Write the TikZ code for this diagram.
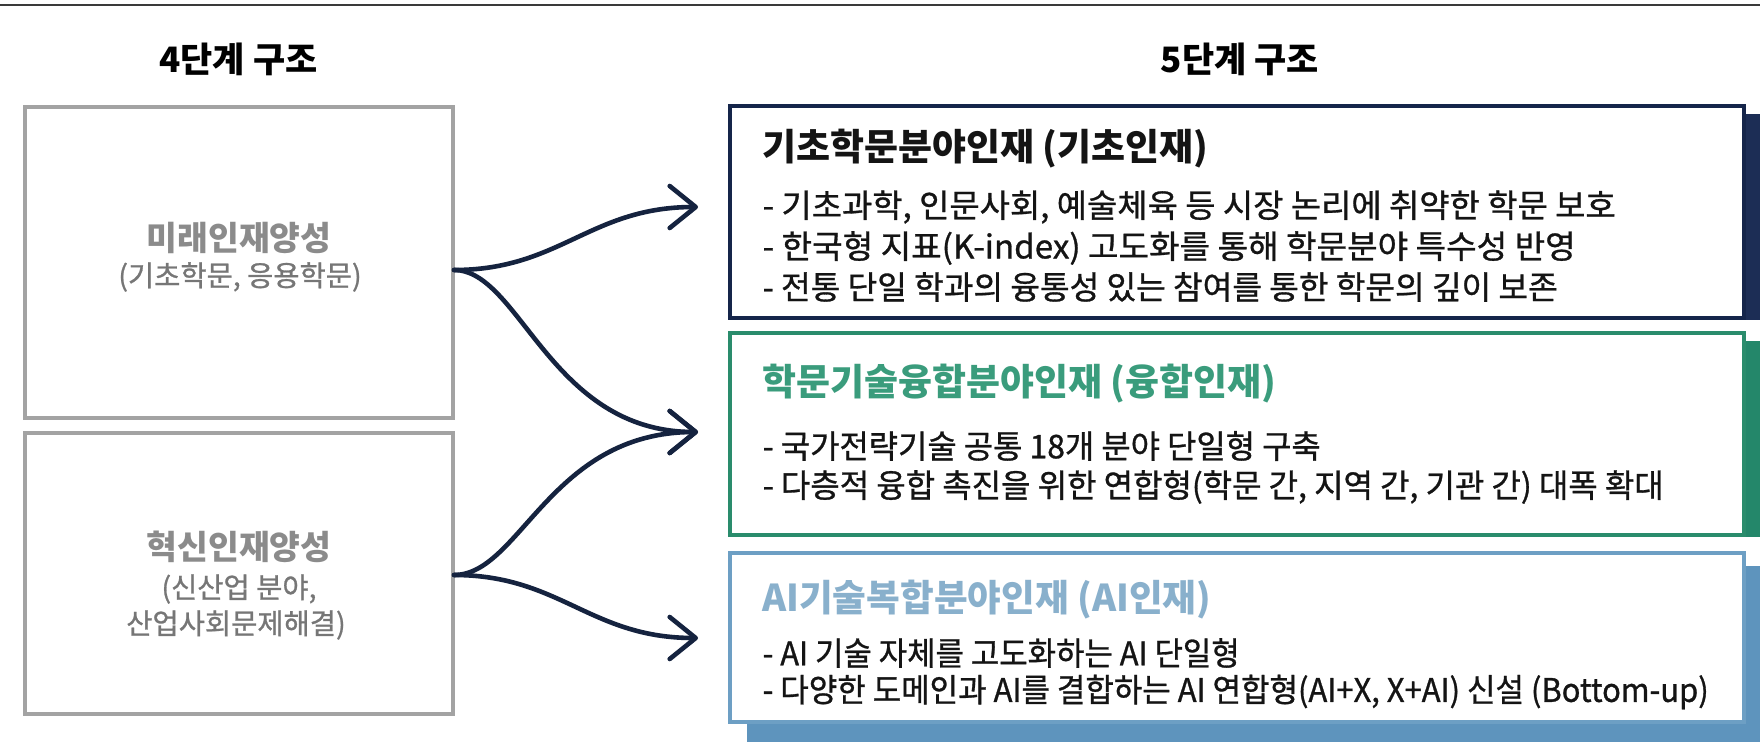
\documentclass[tikz,border=0pt]{standalone}
\usepackage{graphicx}
\usepackage{fontspec}
\setmainfont{Noto Sans CJK KR}
\newfontfamily\bulletfamily{Noto Sans CJK KR}[FakeBold=0.9]
\usetikzlibrary{arrows.meta}
\definecolor{navy}{HTML}{15254A}
\definecolor{navyshadow}{HTML}{1C2D55}
\definecolor{greenb}{HTML}{2A8C6C}
\definecolor{greenshadow}{HTML}{24876A}
\definecolor{greent}{HTML}{3A9C7C}
\definecolor{blueb}{HTML}{6D9FC4}
\definecolor{blueshadow}{HTML}{5E94BD}
\definecolor{bluet}{HTML}{89B0CC}
\definecolor{grayb}{HTML}{A3A3A3}
\definecolor{grayt}{HTML}{8B8B8B}
\definecolor{grays}{HTML}{767676}
\definecolor{arrowc}{HTML}{15233F}
\definecolor{topline}{HTML}{3A3A3A}
\definecolor{textc}{HTML}{141414}
\newcommand\fitw[2]{\resizebox{#1}{\height}{#2}}
\tikzset{
  heading/.style={font=\fontsize{35}{40}\selectfont\bfseries, text=black, inner sep=0},
  leftbox/.style={draw=grayb, line width=4pt, fill=white, minimum width=428pt, inner sep=0},
  lefttitle/.style={font=\fontsize{33.5}{40}\selectfont\bfseries, text=grayt, inner sep=0},
  leftsub/.style={font=\fontsize{28.5}{34}\selectfont\bulletfamily, text=grays, inner sep=0},
  rightbox/.style={line width=4pt, fill=white, minimum width=1014pt, inner sep=0},
  rtitle/.style={font=\fontsize{37}{42}\selectfont\bfseries, anchor=west, inner sep=0},
  bullet/.style={font=\fontsize{32.5}{38}\selectfont\bulletfamily, text=textc, anchor=west, inner sep=0},
  arr/.style={draw=arrowc, line width=4.6pt, line cap=round,
    -{Straight Barb[length=26pt,width=42pt,line cap=round,line join=round]}}
}
\begin{document}
\begin{tikzpicture}[x=1pt,y=-1pt]
\useasboundingbox (0,0) rectangle (1760,741);
\fill[white] (0,0) rectangle (1760,741);
\draw[line width=2.5pt, topline] (0,5) -- (1760,5);

% headings
\node[heading] (h4) at (238.5,59) {4단계 구조};
\node[heading] (h5) at (1240,59) {5단계 구조};

% left boxes
\node[leftbox, minimum height=311pt] (box1) at (239,262.5) {};
\node[leftbox, minimum height=281pt] (box2) at (239,573.5) {};
\node[lefttitle] (l1t) at (239,238) {미래인재양성};
\node[leftsub] (l1s) at (240,277) {(기초학문, 응용학문)};
\node[lefttitle] (l2t) at (239,547) {혁신인재양성};
\node[leftsub] (l2s) at (239,589) {(신산업 분야,};
\node[leftsub] (l2u) at (236,625) {산업사회문제해결)};

% right boxes with shadows
\fill[navyshadow] (747,114) rectangle (1765,320);
\node[rightbox, draw=navy, minimum height=212pt] (boxA) at (1237,212) {};
\fill[greenshadow] (747,341) rectangle (1765,537);
\node[rightbox, draw=greenb, minimum height=202pt] (boxB) at (1237,434) {};
\fill[blueshadow] (747,566) rectangle (1765,745);
\node[rightbox, draw=blueb, minimum height=169pt] (boxC) at (1237,637.5) {};

\node[rtitle, text=textc] (tA) at (762,149) {\fitw{446pt}{기초학문분야인재 (기초인재)}};
\node[bullet] (a1) at (762.5,207) {\fitw{853pt}{- 기초과학, 인문사회, 예술체육 등 시장 논리에 취약한 학문 보호}};
\node[bullet] (a2) at (762.5,248) {\fitw{813pt}{- 한국형 지표(K-index) 고도화를 통해 학문분야 특수성 반영}};
\node[bullet] (a3) at (762.5,287) {\fitw{795pt}{- 전통 단일 학과의 융통성 있는 참여를 통한 학문의 깊이 보존}};

\node[rtitle, text=greent] (tB) at (762,384) {\fitw{514pt}{학문기술융합분야인재 (융합인재)}};
\node[bullet] (b1) at (762.5,446) {\fitw{558pt}{- 국가전략기술 공통 18개 분야 단일형 구축}};
\node[bullet] (b2) at (762.5,487) {\fitw{901pt}{- 다층적 융합 촉진을 위한 연합형(학문 간, 지역 간, 기관 간) 대폭 확대}};

\node[rtitle, text=bluet] (tC) at (762,600) {\fitw{449pt}{AI기술복합분야인재 (AI인재)}};
\node[bullet] (c1) at (762.5,653) {\fitw{477pt}{- AI 기술 자체를 고도화하는 AI 단일형}};
\node[bullet] (c2) at (762.5,692) {\fitw{946pt}{- 다양한 도메인과 AI를 결합하는 AI 연합형(AI+X, X+AI) 신설 (Bottom-up)}};

% connectors
\coordinate (s1) at (454,270);
\coordinate (s2) at (454,575);
\coordinate (eA) at (698,207);
\coordinate (eB) at (698,432);
\coordinate (eC) at (698,638);
\draw[arr] (s1) .. controls (560,270) and (590,207) .. (eA);
\draw[arr] (s1) .. controls (520,270) and (550,432) .. (eB);
\draw[arr] (s2) .. controls (520,575) and (550,432) .. (eB);
\draw[arr] (s2) .. controls (560,575) and (590,638) .. (eC);
\end{tikzpicture}
\end{document}
